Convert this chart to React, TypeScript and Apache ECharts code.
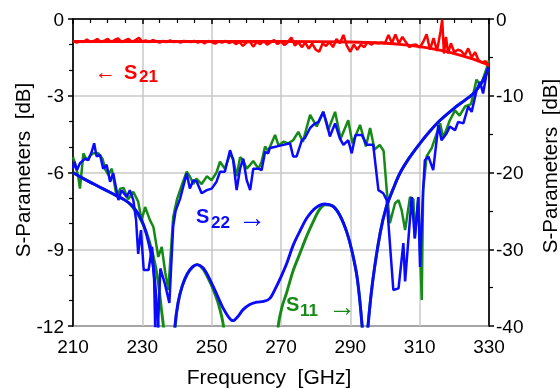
import React, { useEffect, useRef } from "react";
import * as echarts from "echarts";

// ---------- data (frequency in GHz, values in dB) ----------
// S21 measured (left axis)
const s21MeasFreq = [210,211,212,213,214,215,216,217,218,219,220,221,222,223,224,225,226,227,228,229,230,231,232,233,234,235,236,237,238,239,240,241,242,243,244,245,246,247,248,249,250,251,252,253,254,255,256,257,258,259,260,261,262,263,264,265,266,267,268,269,270,271,272,273,274,275,276,277,278,279,280,281,282,283,284,285,286,287,288,289,290,291,292,293,294,295,296,297,298,299,300,301,302,303,304,305,306,307,308,309,310,311,312,313,314,315,316,316.5,317,317.6,318.2,319,320,321,322,323,324,325,326,327,328,329,330];
const s21MeasDb = [-0.85,-0.92,-0.88,-0.9,-0.8,-0.9,-0.86,-0.78,-0.9,-0.85,-0.78,-0.9,-0.82,-0.76,-0.9,-0.84,-0.78,-0.9,-0.82,-0.74,-0.88,-0.84,-0.9,-0.82,-0.88,-0.92,-0.86,-0.9,-0.84,-0.9,-0.88,-0.92,-0.86,-0.88,-0.9,-0.86,-0.92,-0.88,-0.95,-0.86,-0.9,-0.96,-0.88,-0.92,-0.86,-0.94,-0.88,-0.98,-0.9,-1.05,-0.92,-0.88,-1.08,-0.9,-0.98,-0.86,-1.0,-0.92,-0.82,-0.98,-0.88,-1.02,-0.9,-0.72,-1.04,-0.9,-1.1,-0.92,-1.16,-0.96,-1.2,-1.28,-0.96,-1.05,-0.9,-1.1,-0.78,-0.95,-0.62,-1.05,-1.28,-1.0,-1.2,-1.0,-1.1,-0.9,-1.0,-0.92,-0.95,-0.92,-0.95,-0.62,-0.95,-0.6,-0.95,-0.7,-0.9,-1.1,-1.02,-1.0,-1.12,-0.9,-0.6,-1.2,-0.75,-1.25,-0.5,-0.02,-1.35,-0.7,-1.35,-0.95,-1.3,-1.2,-1.25,-1.42,-1.15,-1.5,-1.3,-1.62,-1.7,-1.65,-1.85];
// S21 simulated (left axis)
const s21SimFreq = [210, 240, 270, 290, 300, 305, 310, 315, 320, 325, 330];
const s21SimDb = [-0.88, -0.88, -0.88, -0.9, -0.95, -1.0, -1.08, -1.2, -1.35, -1.55, -1.8];

// S11 measured (right axis)
const s11MeasFreq = [210.0,210.6,211.5,212.0,213.0,214.0,215.0,215.8,217.3,218.5,219.3,220.2,221.2,222.6,223.6,224.6,225.9,227.4,228.8,229.8,230.8,232.2,233.2,234.6,235.6,236.6,237.5,238.9,240.0,241.5,242.8,243.7,244.7,245.6,247.1,248.6,250.0,251.4,252.4,253.8,255.3,256.2,257.2,258.2,259.1,260.1,261.1,262.0,263.5,264.4,265.4,266.3,268.3,269.3,270.7,272.1,273.5,275.0,276.3,278.4,279.3,280.3,282.2,283.6,285.6,287.2,289.4,290.6,292.8,294.5,295.7,297.0,298.5,299.6,300.5,301.4,302.9,303.9,304.8,305.8,307.2,308.2,308.6,309.6,310.6,311.0,312.0,313.5,315.9,316.8,318.7,320.2,321.5,323.1,324.8,326.4,327.6,329.3,330.0];
const s11MeasDb = [-18.0,-18.8,-20.5,-22.1,-17.5,-18.4,-17.8,-17.5,-17.5,-18.2,-19.6,-20.3,-19.5,-23.2,-22.1,-22.0,-23.5,-22.5,-23.8,-26.2,-24.5,-26.2,-27.1,-31.0,-29.7,-33.0,-35.3,-25.8,-23.5,-21.5,-19.9,-20.5,-21.5,-20.8,-21.5,-20.5,-21.0,-20.0,-18.6,-19.5,-17.6,-18.2,-20.5,-18.0,-18.4,-19.5,-19.0,-18.5,-19.5,-18.6,-16.6,-17.2,-15.1,-16.5,-16.0,-16.2,-15.8,-14.7,-16.0,-12.5,-13.2,-14.0,-12.1,-14.5,-12.1,-15.6,-13.2,-16.2,-13.8,-16.6,-14.2,-17.0,-16.4,-17.2,-22.3,-26.6,-24.0,-23.6,-24.9,-27.5,-23.2,-23.5,-28.6,-23.2,-36.6,-22.3,-17.9,-16.8,-13.6,-15.5,-13.2,-11.9,-12.6,-11.4,-11.1,-7.9,-8.7,-6.4,-5.4];
// S11 simulated (right axis)
const s11SimFreq = [210,213,216,219,222,225,227,229,231,233,234.5,235.5,236.3,237.5,238.8,239.5,240.3,241.5,243,244.5,245.8,247.5,249,250.5,252,253.4,254.5,256,267,268.3,269.2,270.3,271.6,273.5,275.5,277.5,279.5,281,282.7,285,287,289,290.5,292,293.4,294.2,295.1,296.5,298.6,300.3,302.3,304.3,307,310.1,313,315.9,320,323,325.5,328,330];
const s11SimDb = [-20.0,-20.8,-21.5,-22.2,-22.9,-23.6,-24.4,-25.7,-27.6,-30.6,-34.0,-37.8,-41,-50,-46,-40,-37,-34.8,-33.2,-32.3,-32.0,-32.6,-33.8,-35.3,-37.2,-40,-46,-60,-60,-46,-40,-37.5,-35.7,-32.8,-30.5,-28.2,-26.2,-24.9,-24.2,-24.4,-25.6,-27.8,-30.3,-33.8,-40,-46,-40,-34,-27.9,-24.6,-22.2,-20.1,-18.1,-16.2,-14.6,-13.2,-11.6,-10.6,-9.7,-8.2,-6.3];

// S22 measured (right axis)
const s22MeasFreq = [210.0,210.4,211.1,212.0,213.5,214.4,215.4,216.1,216.8,217.8,218.7,219.7,220.7,221.6,223.1,224.0,225.5,226.4,227.4,228.2,228.8,229.6,230.4,231.8,232.8,233.4,234.0,235.2,236.5,237.8,238.9,239.6,240.9,242.8,243.7,244.7,245.7,247.1,248.6,250.0,251.4,252.4,253.8,255.3,256.2,257.2,258.2,259.1,260.1,261.1,262.0,263.5,264.4,265.4,266.3,266.8,268.8,270.7,272.6,273.5,274.5,276.0,276.9,278.4,279.3,280.8,282.2,283.2,284.1,285.6,287.0,288.0,289.4,290.4,291.5,293.3,294.7,296.6,298.1,299.5,300.5,302.4,303.9,305.3,305.8,307.7,308.6,309.6,310.1,311.0,311.5,312.5,313.9,315.4,316.3,317.8,318.7,320.2,321.1,322.6,324.0,325.0,326.4,327.4,328.3,329.3,330.0];
const s22MeasDb = [-19.5,-18.6,-19.7,-18.8,-18.2,-18.4,-17.3,-16.2,-17.9,-17.7,-19.5,-19.0,-21.2,-20.1,-23.6,-22.3,-23.2,-22.3,-23.6,-26.2,-30.6,-27.5,-32.7,-32.7,-29.7,-34.0,-46.0,-32.5,-34.5,-37.0,-27.0,-25.0,-23.4,-20.1,-22.1,-21.0,-21.2,-22.7,-22.3,-22.1,-21.2,-19.9,-19.9,-17.1,-18.4,-22.3,-19.5,-18.2,-21.0,-22.3,-19.5,-19.5,-19.7,-17.3,-17.5,-16.8,-16.6,-16.4,-16.2,-17.9,-17.9,-15.8,-15.5,-14.2,-13.8,-13.4,-12.1,-13.6,-15.3,-13.6,-15.6,-16.4,-15.8,-17.5,-15.1,-15.1,-16.4,-16.4,-22.3,-22.7,-23.6,-35.3,-35.1,-29.2,-34.2,-23.2,-28.6,-23.2,-32.3,-22.3,-18.4,-17.9,-19.7,-13.8,-15.8,-14.9,-14.0,-14.5,-13.4,-13.6,-11.4,-12.1,-9.3,-8.2,-9.7,-7.1,-5.8];
// S22 simulated (right axis)
const s22SimFreq = [210,213,216,219,222,225,227,229,230.5,232,233.2,234.0,234.6,235.5,237,238.5,239.4,240.3,241.5,243,244.5,245.8,247.5,249,251,253,255,256.2,257.5,259,261,263,265,266.8,268.3,270,271.7,273.5,275.5,277.5,280,282.7,285,287,289,290.5,292,293.4,294.2,295.1,296.5,298.6,300.3,302.3,304.3,307,310.1,313,315.9,320,323,325.5,328,330];
const s22SimDb = [-20.0,-20.8,-21.5,-22.2,-22.9,-23.6,-24.3,-25.5,-27.0,-29.5,-32.5,-36.5,-40.5,-48,-55,-47,-40,-37,-34.8,-33.2,-32.3,-32.0,-32.4,-33.5,-35.4,-37.4,-38.9,-39.3,-38.8,-37.9,-37.2,-36.9,-36.8,-36.4,-35.2,-33.6,-31.8,-29.5,-27.6,-25.9,-24.6,-24.1,-24.4,-25.6,-27.8,-30.3,-33.8,-40,-46,-40,-34,-27.9,-24.6,-22.2,-20.1,-18.1,-16.2,-14.6,-13.2,-11.6,-10.6,-9.7,-8.2,-6.3];

const xTicks = { min: 210, max: 330, step: 20 };
const leftTicks = { min: -12, max: 0, step: 3 };
const rightTicks = { min: -40, max: 0, step: 10 };

const RED = "#ff0000";
const GREEN = "#168a16";
const BLUE = "#0a0aff";
const FONT = '"Liberation Sans", Arial, sans-serif';

function pairs(f: number[], v: number[]) {
  return f.map((x, i) => [x, v[i]]);
}

export default function App() {
  const ref = useRef<HTMLDivElement>(null);
  useEffect(() => {
    const chart = echarts.init(ref.current!, null, { renderer: "svg" });
    const axisLine = { show: true, lineStyle: { color: "#000", width: 1.6 } };
    const axisTick = { show: true, length: 5, lineStyle: { color: "#000", width: 1.5 } };
    const label = { color: "#000", fontSize: 19, fontFamily: FONT };
    const split = { show: true, lineStyle: { color: "#c8c8c8", width: 1.5 } };
    const lineS = (name: string, data: any, color: string, yAxisIndex: number, smooth: any, w = 2.5) => ({
      name,
      type: "line",
      data,
      yAxisIndex,
      showSymbol: false,
      smooth,
      lineStyle: { color, width: w },
      itemStyle: { color },
      z: 2,
    });
    const txt = (text: string, x: number, y: number, color: string, font: string, extra: any = {}) => ({
      type: "text",
      x,
      y,
      z: 100,
      ...extra,
      style: { text, fill: color, font, align: extra.align || "left", verticalAlign: "middle", textAlign: extra.align || "left", textVerticalAlign: "middle" },
    });
    chart.setOption({
      animation: false,
      grid: { left: 73, right: 71, top: 19, bottom: 63, show: true, borderColor: "#000", borderWidth: 1.6, backgroundColor: "transparent" },
      xAxis: {
        type: "value",
        min: xTicks.min,
        max: xTicks.max,
        interval: xTicks.step,
        axisLine,
        axisTick,
        minorTick: { show: true, splitNumber: 4, length: 4, lineStyle: { color: "#000", width: 1.2 } },
        axisLabel: { ...label, margin: 11 },
        splitLine: split,
      },
      yAxis: [
        {
          type: "value",
          position: "left",
          min: leftTicks.min,
          max: leftTicks.max,
          interval: leftTicks.step,
          axisLine,
          axisTick,
          minorTick: { show: true, splitNumber: 3, length: 4, lineStyle: { color: "#000", width: 1.2 } },
          axisLabel: { ...label, margin: 9 },
          splitLine: split,
        },
        {
          type: "value",
          position: "right",
          min: rightTicks.min,
          max: rightTicks.max,
          interval: rightTicks.step,
          axisLine,
          axisTick,
          minorTick: { show: true, splitNumber: 2, length: 4, lineStyle: { color: "#000", width: 1.2 } },
          axisLabel: { ...label, margin: 7 },
          splitLine: { show: false },
        },
      ],
      series: [
        lineS("S11 sim", pairs(s11SimFreq, s11SimDb), GREEN, 1, 0.3, 2.9),
        lineS("S11 meas", pairs(s11MeasFreq, s11MeasDb), GREEN, 1, false),
        lineS("S22 sim", pairs(s22SimFreq, s22SimDb), BLUE, 1, 0.3, 2.9),
        lineS("S22 meas", pairs(s22MeasFreq, s22MeasDb), BLUE, 1, false),
        lineS("S21 sim", pairs(s21SimFreq, s21SimDb), RED, 0, 0.3, 2.9),
        lineS("S21 meas", pairs(s21MeasFreq, s21MeasDb), RED, 0, false),
      ],
      graphic: [
        txt("S-Parameters  [dB]", 22, 170, "#000", `20.5px ${FONT}`, { rotation: Math.PI / 2, align: "center" }),
        txt("S-Parameters  [dB]", 549, 166, "#000", `20.5px ${FONT}`, { rotation: Math.PI / 2, align: "center" }),
        txt("Frequency  [GHz]", 269, 376, "#000", `21px ${FONT}`, { align: "center" }),
        txt("\u2190", 95, 71, RED, `21px ${FONT}`),
        txt("S", 124, 71.5, RED, `bold 20px ${FONT}`),
        txt("21", 139, 76, RED, `bold 17px ${FONT}`),
        txt("S", 196, 215.5, BLUE, `bold 20px ${FONT}`),
        txt("22", 211, 222, BLUE, `bold 17px ${FONT}`),
        txt("\u2192", 238, 217, BLUE, `28px ${FONT}`),
        txt("S", 286, 304, GREEN, `bold 20px ${FONT}`),
        txt("11", 300, 310, GREEN, `bold 17px ${FONT}`),
        txt("\u2192", 328, 306, GREEN, `28px ${FONT}`),
      ],
    });
    return () => chart.dispose();
  }, []);
  return <div ref={ref} style={{ position: "fixed", left: 0, top: 0, width: 560, height: 389 }} />;
}
